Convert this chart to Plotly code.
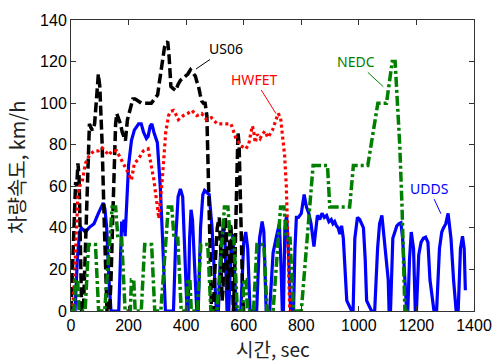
import plotly.graph_objects as go

# ---------------- data (time [s], speed [km/h]) ----------------
udds_t = [0, 14, 22, 30, 36, 50, 62, 80, 95, 105, 112, 118, 124, 132, 139, 166, 172, 176, 180, 184, 188, 192,
          200, 210, 220, 235, 244, 252, 262, 268, 275, 281, 288, 300, 310, 318, 328, 356, 364, 372, 380, 388,
          396, 403, 407, 412, 417, 422, 430, 437, 442, 450, 458, 464, 472, 480, 490, 498, 505, 512, 520, 528,
          535, 542, 548, 556, 562, 568, 574, 590, 600, 607, 614, 622, 645, 655, 664, 670, 678, 690, 702, 714,
          724, 730, 734, 738, 743, 749, 755, 763, 773, 778, 783, 790, 800, 810, 818, 826, 834, 844, 850, 856,
          864, 872, 880, 888, 896, 904, 910, 916, 922, 928, 934, 940, 946, 952, 958, 975, 980, 986, 995, 1003,
          1010, 1016, 1022, 1027, 1044, 1055, 1065, 1072, 1080, 1088, 1095, 1102, 1105, 1110, 1118, 1125, 1132,
          1139, 1146, 1152, 1159, 1166, 1170, 1176, 1182, 1190, 1196, 1200, 1208, 1216, 1224, 1232, 1240, 1247,
          1261, 1270, 1280, 1288, 1294, 1302, 1310, 1320, 1329, 1338, 1345, 1353, 1360, 1366, 1370]
udds_v = [0, 0, 25, 38, 40, 38, 40, 42, 47, 50, 52, 49, 40, 15, 0, 0, 30, 43, 38, 44, 36, 50,
          70, 82, 87, 90, 90, 86, 83, 84, 89, 90, 86, 81, 60, 35, 0, 0, 35, 55, 58.7, 55,
          30, 0, 0, 35, 48.7, 44, 20, 0, 0, 40, 56, 58, 57, 56, 40, 15, 0, 0, 30, 40,
          35, 0, 0, 30, 37, 20, 0, 0, 33, 38, 30, 0, 0, 35, 43, 38, 0, 0, 28, 36,
          42, 20, 0, 0, 40, 46, 30, 0, 0, 30, 45, 45, 47, 56, 50, 47, 42, 31, 40, 46,
          44, 47, 45, 46, 43, 44, 42, 43, 41, 40, 37, 41, 35, 20, 5, 0, 0, 35, 45, 44,
          42, 40, 25, 5, 0, 0, 30, 42, 46, 35, 25, 15, 0, 0, 35, 38, 41, 42,
          42.5, 35, 15, 0, 0, 25, 38, 30, 0, 0, 27, 33, 35, 35.5, 33, 15, 0,
          0, 30, 38, 40, 42, 47, 35, 15, 0, 0, 30, 36, 30, 10, 0]

us06_t = [0, 6, 12, 16, 20, 24, 28, 31, 34, 37, 43, 50, 56, 64, 70, 75, 82, 88, 95, 100, 104, 108, 115,
          120, 125, 134, 139, 144, 149, 155, 159, 166, 172, 178, 183, 189, 196, 206, 215, 223, 235, 245, 262,
          279, 290, 301, 307, 313, 319, 325, 331, 336, 341, 347, 355, 364, 372, 380, 389, 397, 406, 415, 424,
          432, 438, 443, 449, 454, 460, 466, 472, 476, 480, 484, 488, 495, 500, 508, 515, 520, 525, 528, 532,
          536, 540, 545, 548, 553, 556, 560, 564, 568, 573, 577, 580, 584, 588, 593, 597, 600]
us06_v = [0, 20, 45, 62, 60, 71, 65, 45, 15, 0, 0, 30, 55, 90, 88, 87, 90, 103, 114, 108, 97, 81, 45,
          20, 0, 0, 15, 40, 70, 90, 95, 92, 90, 86, 84, 82, 92, 98, 102, 102, 101, 100, 100,
          100, 102, 104, 110, 115, 121, 127, 129, 129.6, 122, 108, 107, 106, 109, 111, 112, 113, 114, 116, 114,
          113, 110, 108, 104, 101, 100, 100, 94, 75, 50, 25, 0, 0, 20, 40, 45, 30, 5, 10, 40,
          45, 35, 10, 20, 42, 40, 15, 0, 15, 50, 75, 86, 80, 55, 25, 5, 0]

hwfet_t = [0, 5, 12, 20, 24, 30, 40, 50, 64, 80, 95, 108, 118, 132, 142, 159, 170, 183, 193, 210, 220, 234,
           251, 268, 278, 288, 301, 305, 318, 329, 339, 346, 356, 363, 373, 380, 390, 405, 420, 437, 454, 471,
           488, 508, 530, 556, 573, 590, 607, 617, 624, 630, 634, 640, 647, 657, 664, 674, 684, 700, 712, 720,
           728, 736, 742, 748, 752, 756, 760, 765]
hwfet_v = [0, 0, 15, 40, 56, 60, 63, 71, 75, 77, 77, 78.5, 77, 75, 77, 77, 74, 71, 68, 63, 71, 73,
           77, 78, 71, 63, 49, 44.5, 65, 86, 94, 96, 96.5, 95, 92, 93, 94, 95, 96.5, 94, 95, 92,
           93, 90, 90, 90, 83, 79.5, 78, 80, 85, 89, 87, 81, 85, 83, 85, 86.5, 83.5, 87, 92, 95,
           93, 84, 75, 60, 40, 18, 0, 0]

nedc_t = [0, 11, 15, 23, 28, 49, 61, 85, 96, 117, 143, 155, 163, 176, 188,
          195, 206, 210, 218, 223, 244, 256, 280, 291, 312, 338, 350, 358, 371, 383,
          390, 401, 405, 413, 418, 439, 451, 475, 486, 507, 533, 545, 553, 566, 578,
          585, 596, 600, 608, 613, 634, 646, 670, 681, 702, 728, 740, 748, 761, 773,
          780, 800, 841, 891, 899, 968, 981, 1031, 1066, 1096, 1116, 1126, 1142, 1150, 1160, 1180]
nedc_v = [0, 0, 15, 15, 0, 0, 32, 32, 0, 0, 50, 50, 35, 35, 0,
          0, 0, 15, 15, 0, 0, 32, 32, 0, 0, 50, 50, 35, 35, 0,
          0, 0, 15, 15, 0, 0, 32, 32, 0, 0, 50, 50, 35, 35, 0,
          0, 0, 15, 15, 0, 0, 32, 32, 0, 0, 50, 50, 35, 35, 0,
          0, 0, 70, 70, 50, 50, 70, 70, 100, 100, 120, 120, 80, 50, 0, 0]

x_ticks = [0, 200, 400, 600, 800, 1000, 1200, 1400]
y_ticks = [0, 20, 40, 60, 80, 100, 120, 140]

# label: (name, text x/y, curve point x/y, colour)
labels = [("US06", 539, 126.3, 434, 116.4, "#000000"),
          ("HWFET", 637, 111.6, 712, 95.0, "#ff0000"),
          ("NEDC", 990, 120.1, 1085, 107.9, "#007f00"),
          ("UDDS", 1244, 59.1, 1285, 46.8, "#0000ff")]

fig = go.Figure()
fig.add_trace(go.Scatter(x=udds_t, y=udds_v, mode="lines", name="UDDS",
                         line=dict(color="#0000ff", width=3.2)))
fig.add_trace(go.Scatter(x=us06_t, y=us06_v, mode="lines", name="US06",
                         line=dict(color="#000000", width=3.5, dash="10px,4px")))
fig.add_trace(go.Scatter(x=hwfet_t, y=hwfet_v, mode="lines", name="HWFET",
                         line=dict(color="#ff0000", width=3.2, dash="3px,3px")))
fig.add_trace(go.Scatter(x=nedc_t, y=nedc_v, mode="lines", name="NEDC",
                         line=dict(color="#007f00", width=3.5, dash="10px,3px,3px,3px")))

annotations = []
for name, tx, ty, px, py, col in labels:
    annotations.append(dict(x=px, y=py, ax=tx, ay=ty, xref="x", yref="y", axref="x", ayref="y",
                            text=name, showarrow=True, arrowhead=0, arrowwidth=1, arrowcolor=col,
                            font=dict(family="Noto Sans", size=14, color=col)))
annotations.append(dict(x=-0.1356, y=0.493, xref="paper", yref="paper", text="차량속도, km/h",
                        textangle=-90, showarrow=False, xanchor="center", yanchor="middle",
                        font=dict(family="Noto Sans CJK KR", size=20, color="#222222")))
annotations.append(dict(x=0.501, y=-0.128, xref="paper", yref="paper", text="시간, sec",
                        showarrow=False, xanchor="center", yanchor="middle",
                        font=dict(family="Noto Sans CJK KR", size=19, color="#222222")))

axis_common = dict(showgrid=False, zeroline=False, showline=True, linecolor="#333333", linewidth=1,
                   mirror="ticks", ticks="inside", ticklen=5, tickcolor="#333333",
                   tickfont=dict(family="Liberation Sans", size=16, color="#000000"))

fig.update_layout(
    width=504, height=364,
    margin=dict(l=71, r=20, t=15, b=53),
    paper_bgcolor="white", plot_bgcolor="white",
    showlegend=False,
    xaxis=dict(range=[0, 1400], tickvals=x_ticks, **axis_common),
    yaxis=dict(range=[0, 140], tickvals=y_ticks, **axis_common),
    annotations=annotations,
)

fig.write_html("out.html", config={"displayModeBar": False},
               post_script="document.body.style.margin='0px';document.body.style.overflow='hidden';")
